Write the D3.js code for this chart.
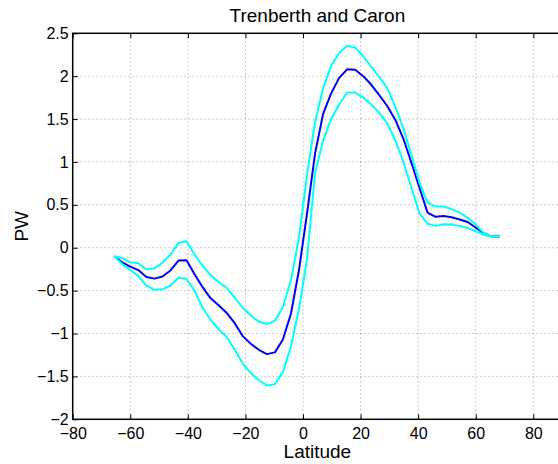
<!DOCTYPE html>
<html>
<head>
<meta charset="utf-8">
<script src="https://cdn.jsdelivr.net/npm/d3@7"></script>
<style>
  body { margin: 0; background: #fff; }
  text { font-family: "Liberation Sans", Arial, sans-serif; fill: #000; }
  .tick line { stroke: #000; }
  .grid line { stroke: #999; stroke-dasharray: 1,3; }
</style>
</head>
<body>
<script>
// Latitudes (degrees) of the plotted points
var lat = [-65.58, -62.79, -60.00, -57.21, -54.41, -51.62, -48.83, -46.04, -43.25, -40.46,
  -37.67, -34.88, -32.09, -29.30, -26.51, -23.72, -20.93, -18.14, -15.35, -12.56,
  -9.77, -6.98, -4.19, -1.40, 1.40, 4.19, 6.98, 9.77, 12.56, 15.35,
  18.14, 20.93, 23.72, 26.51, 29.30, 32.09, 34.88, 37.67, 40.46, 43.25,
  46.04, 48.83, 51.62, 54.41, 57.21, 60.00, 62.79, 65.58, 68.37];

// Mean transport (PW)
var meanPW = [-0.10, -0.17, -0.22, -0.26, -0.34, -0.36, -0.335, -0.265, -0.15, -0.145,
  -0.31, -0.46, -0.59, -0.67, -0.76, -0.88, -1.03, -1.12, -1.19, -1.24,
  -1.22, -1.07, -0.77, -0.26, 0.40, 1.10, 1.56, 1.80, 1.98, 2.08,
  2.075, 2.00, 1.90, 1.78, 1.65, 1.49, 1.27, 0.99, 0.70, 0.41,
  0.36, 0.37, 0.355, 0.33, 0.30, 0.235, 0.17, 0.13, 0.13];

// Upper bound (PW)
var upperPW = [-0.10, -0.12, -0.17, -0.18, -0.25, -0.24, -0.175, -0.08, 0.055, 0.075,
  -0.08, -0.21, -0.32, -0.40, -0.47, -0.58, -0.70, -0.79, -0.86, -0.89,
  -0.85, -0.69, -0.38, 0.12, 0.85, 1.47, 1.86, 2.12, 2.27, 2.355,
  2.335, 2.23, 2.11, 1.99, 1.86, 1.64, 1.39, 1.08, 0.76, 0.53,
  0.48, 0.48, 0.45, 0.41, 0.35, 0.27, 0.17, 0.13, 0.13];

// Lower bound (PW)
var lowerPW = [-0.10, -0.19, -0.26, -0.33, -0.44, -0.49, -0.485, -0.44, -0.35, -0.365,
  -0.50, -0.70, -0.84, -0.95, -1.04, -1.19, -1.35, -1.46, -1.545, -1.605,
  -1.59, -1.45, -1.15, -0.72, -0.13, 0.87, 1.25, 1.50, 1.67, 1.81,
  1.81, 1.75, 1.67, 1.57, 1.45, 1.25, 1.00, 0.70, 0.40, 0.28,
  0.255, 0.275, 0.27, 0.255, 0.23, 0.19, 0.15, 0.13, 0.13];

var xTicks = [-80, -60, -40, -20, 0, 20, 40, 60, 80];
var yTicks = [-2, -1.5, -1, -0.5, 0, 0.5, 1, 1.5, 2, 2.5];

var svgWidth = 558;
var svgHeight = 464;

// plot box edges in pixels
var boxLeft = 72.7, boxRight = 562.1, boxTop = 33.3, boxBottom = 419.3;

var svg = d3.select("body")
  .append("svg")
  .attr("width", svgWidth)
  .attr("height", svgHeight);

var xScale = d3.scaleLinear().domain([-80, 90]).range([boxLeft, boxRight]);
var yScale = d3.scaleLinear().domain([-2, 2.5]).range([boxBottom, boxTop]);

var fmt = d3.format("");

// dotted grid
var grid = svg.append("g").attr("class", "grid");
grid.selectAll(".vx")
  .data(xTicks.slice(1))
  .enter().append("line")
  .attr("x1", d => xScale(d)).attr("x2", d => xScale(d))
  .attr("y1", boxTop).attr("y2", boxBottom);
grid.selectAll(".hy")
  .data(yTicks.slice(1, -1))
  .enter().append("line")
  .attr("x1", boxLeft).attr("x2", boxRight)
  .attr("y1", d => yScale(d)).attr("y2", d => yScale(d));

// data lines
var series = [
  { values: meanPW, color: "#0000ff" },
  { values: upperPW, color: "#00ffff" },
  { values: lowerPW, color: "#00ffff" }
];

var line = d3.line()
  .x((d, i) => xScale(lat[i]))
  .y(d => yScale(d));

svg.selectAll(".series")
  .data(series)
  .enter().append("path")
  .attr("d", d => line(d.values))
  .attr("fill", "none")
  .attr("stroke", d => d.color)
  .attr("stroke-width", 2)
  .attr("stroke-linejoin", "round");

// axes (ticks point inward)
var bottomAxis = d3.axisBottom(xScale).tickValues(xTicks).tickFormat(fmt)
  .tickSizeInner(-5).tickSizeOuter(0).tickPadding(8);
var leftAxis = d3.axisLeft(yScale).tickValues(yTicks).tickFormat(fmt)
  .tickSizeInner(-5).tickSizeOuter(0).tickPadding(4);
var topAxis = d3.axisTop(xScale).tickValues(xTicks).tickFormat("")
  .tickSizeInner(-5).tickSizeOuter(0);

svg.append("g")
  .attr("transform", `translate(0, ${boxBottom})`)
  .call(bottomAxis);
svg.append("g")
  .attr("transform", `translate(${boxLeft}, 0)`)
  .call(leftAxis);
svg.append("g")
  .attr("transform", `translate(0, ${boxTop})`)
  .call(topAxis);

svg.selectAll(".domain").remove();
svg.selectAll(".tick text")
  .style("font-size", "16px")
  .style("font-family", "'Liberation Sans', Arial, sans-serif")
  .attr("fill", "#000");

// frame
svg.append("rect")
  .attr("x", boxLeft).attr("y", boxTop)
  .attr("width", boxRight - boxLeft).attr("height", boxBottom - boxTop)
  .attr("fill", "none")
  .attr("stroke", "#000")
  .attr("stroke-width", 1.5);

// titles
svg.append("text")
  .attr("x", (boxLeft + boxRight) / 2)
  .attr("y", 21.7)
  .attr("text-anchor", "middle")
  .style("font-size", "19px")
  .text("Trenberth and Caron");

svg.append("text")
  .attr("x", (boxLeft + boxRight) / 2)
  .attr("y", 457.5)
  .attr("text-anchor", "middle")
  .style("font-size", "19px")
  .text("Latitude");

svg.append("text")
  .attr("transform", `translate(27.5, ${(boxTop + boxBottom) / 2}) rotate(-90)`)
  .attr("text-anchor", "middle")
  .style("font-size", "19px")
  .text("PW");
</script>
</body>
</html>
